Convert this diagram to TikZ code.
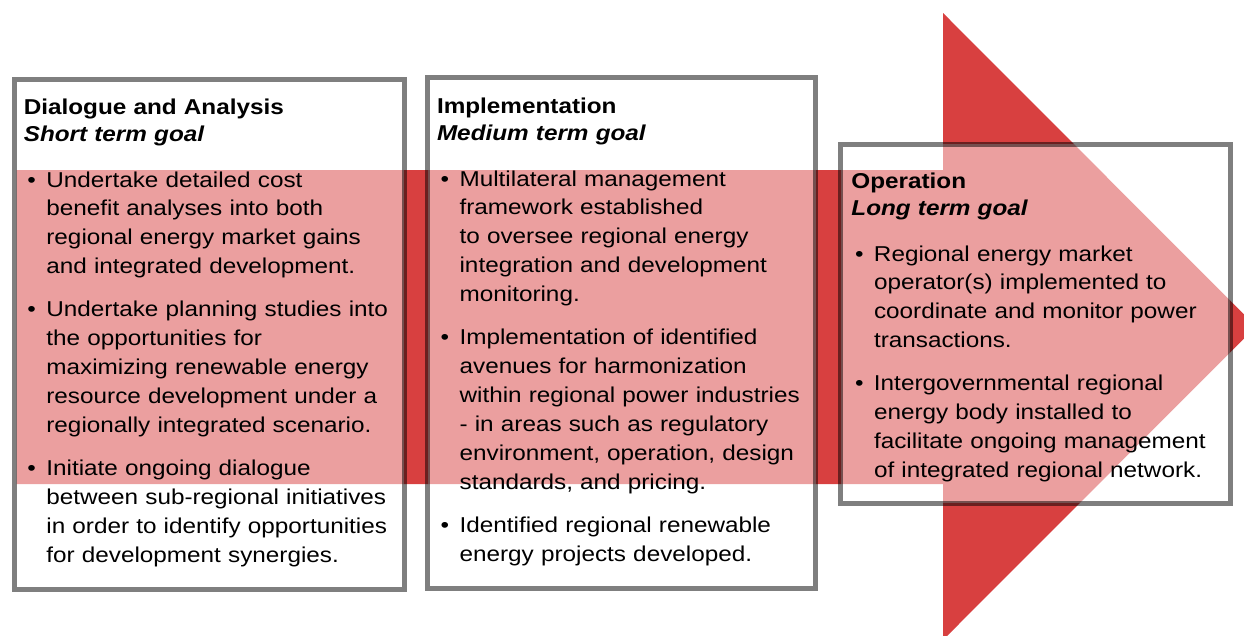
\documentclass[tikz,border=0pt]{standalone}
\usepackage{fontspec}
\setmainfont{Liberation Sans}[FakeStretch=1.13]
\definecolor{arrowred}{RGB}{216,64,64}
\newcommand{\fs}{\fontsize{21.5}{28.9}\selectfont}
\newcommand{\nl}{\hfil\break}
\newcommand{\bitem}[1]{\par\hangindent=22.6pt\hangafter=1\noindent\makebox[22.6pt][l]{\hspace{3.6pt}\textbullet}#1\par}
\newcommand{\ttl}[2]{\raggedright\fs\textbf{#1}\\[-1.9pt]\textbf{\textit{#2}}\par\vspace{16.8pt}}
\newcommand{\igap}{\vspace{14.1pt}}
\tikzset{
  box/.style={rectangle, draw=black, draw opacity=0.5, fill=white, fill opacity=0.5, line width=5pt, inner sep=0pt},
  txt/.style={anchor=base west, inner sep=0pt, text width=375pt, font=\fs}
}
\begin{document}
\begin{tikzpicture}[x=1pt,y=-1pt]
\useasboundingbox (0,0) rectangle (1244,635);
\clip (0,0) rectangle (1244,635);
% big arrow
\fill[arrowred] (16.5,170) -- (943,170) -- (943,13) -- (1256,326.5) -- (943,640) -- (943,484) -- (16.5,484) -- cycle;
% boxes
\node[box, minimum width=390pt, minimum height=509.8pt] (b1) at (209.2,334.1) {};
\node[box, minimum width=388.3pt, minimum height=510.2pt] (b2) at (621.65,332.9) {};
\node[box, minimum width=389.2pt, minimum height=359.1pt] (b3) at (1035.4,323.75) {};
% texts
\node[txt] (t1) at (23.6,114.3) {\ttl{Dialogue and Analysis}{Short term goal}%
\bitem{Undertake detailed cost\nl benefit analyses into both\nl regional energy market gains\nl and integrated development.}\igap
\bitem{Undertake planning studies into\nl the opportunities for\nl maximizing renewable energy\nl resource development under a\nl regionally integrated scenario.}\igap
\bitem{Initiate ongoing dialogue\nl between sub-regional initiatives\nl in order to identify opportunities\nl for development synergies.}};
\node[txt] (t2) at (436.8,113.3) {\ttl{Implementation}{Medium term goal}%
\bitem{Multilateral management\nl framework established\nl to oversee regional energy\nl integration and development\nl monitoring.}\igap
\bitem{Implementation of identified\nl avenues for harmonization\nl within regional power industries\nl - in areas such as regulatory\nl environment, operation, design\nl standards, and pricing.}\igap
\bitem{Identified regional renewable\nl energy projects developed.}};
\node[txt] (t3) at (851.2,188.3) {\ttl{Operation}{Long term goal}%
\bitem{Regional energy market\nl operator(s) implemented to\nl coordinate and monitor power\nl transactions.}\igap
\bitem{Intergovernmental regional\nl energy body installed to\nl facilitate ongoing management\nl of integrated regional network.}};
\end{tikzpicture}
\end{document}
